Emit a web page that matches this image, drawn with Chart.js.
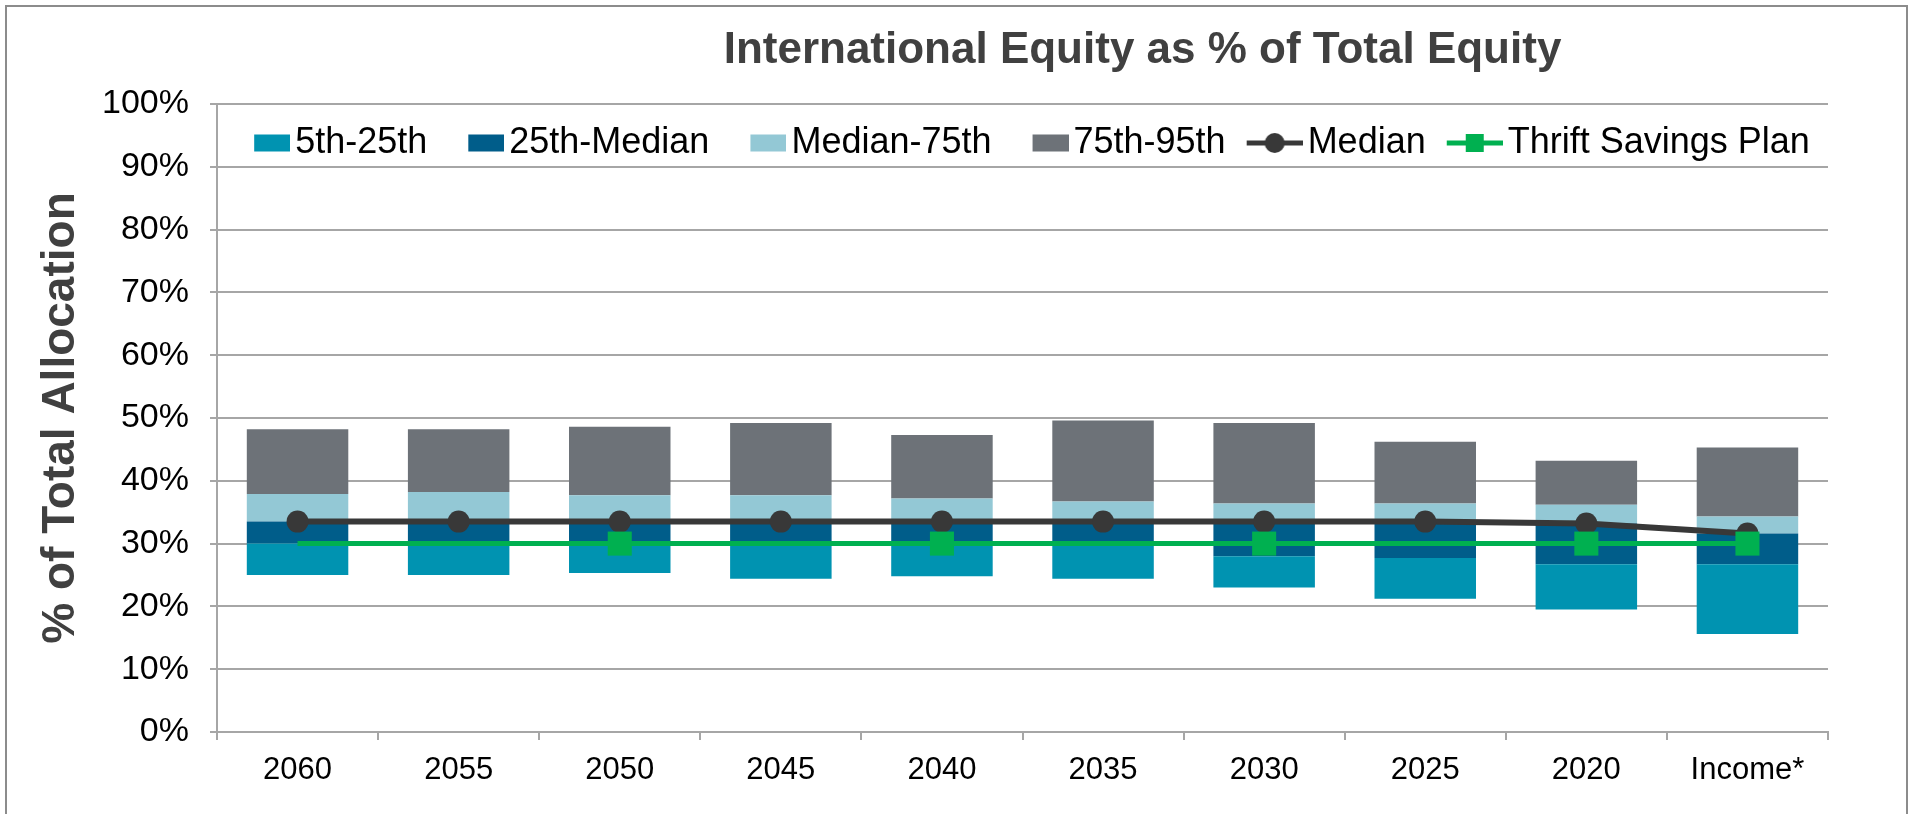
<!DOCTYPE html>
<html><head><meta charset="utf-8">
<script src="https://cdn.jsdelivr.net/npm/chart.js@4.4.1/dist/chart.umd.min.js"></script>
<style>
html,body{margin:0;padding:0;background:#fff;overflow:hidden;}
#wrap{position:relative;width:1913px;height:814px;}
</style></head><body>
<div id="wrap"><canvas id="c"></canvas></div>
<script>
const chartTitle = 'International Equity as % of Total Equity';
const yAxisTitle = '% of Total Allocation';
const categories = ['2060','2055','2050','2045','2040','2035','2030','2025','2020','Income*'];
const yTickLabels = ['0%','10%','20%','30%','40%','50%','60%','70%','80%','90%','100%'];
const p5     = [25.0, 25.0, 25.3, 24.4, 24.8, 24.4, 23.0, 21.2, 19.5, 15.6];
const p25    = [30.0, 30.0, 29.7, 30.0, 29.6, 29.8, 28.0, 27.7, 26.7, 26.7];
const median = [33.5, 33.5, 33.5, 33.5, 33.5, 33.5, 33.5, 33.5, 33.2, 31.6];
const p75    = [37.9, 38.2, 37.7, 37.7, 37.2, 36.7, 36.4, 36.4, 36.2, 34.3];
const p95    = [48.2, 48.2, 48.6, 49.2, 47.3, 49.6, 49.2, 46.2, 43.2, 45.3];
const tsp    = [30, 30, 30, 30, 30, 30, 30, 30, 30, 30];

const FONT = '"Liberation Sans", Arial, sans-serif';
Chart.defaults.font.family = FONT;

const bands = [
  {label: '5th-25th',    lo: p5,     hi: p25,    color: '#0093B1'},
  {label: '25th-Median', lo: p25,    hi: median, color: '#005D8A'},
  {label: 'Median-75th', lo: median, hi: p75,    color: '#93C8D5'},
  {label: '75th-95th',   lo: p75,    hi: p95,    color: '#6D7278'}
];

const barDatasets = bands.map((b, k) => ({
  type: 'bar',
  label: b.label,
  data: categories.map((_, i) => [b.lo[i], b.hi[i]]),
  backgroundColor: b.color,
  borderWidth: 0,
  grouped: false,
  barPercentage: 0.63,
  categoryPercentage: 1,
  order: 10 + k
}));

const lineDatasets = [
  {
    type: 'line', label: 'Median', data: median,
    borderColor: '#383838', backgroundColor: '#383838', borderWidth: 6,
    pointStyle: 'circle', pointRadius: 11, pointBorderWidth: 0,
    pointBackgroundColor: '#383838', tension: 0, order: 1
  },
  {
    type: 'line', label: 'Thrift Savings Plan', data: tsp,
    borderColor: '#00B050', backgroundColor: '#00B050', borderWidth: 5,
    pointStyle: 'rect', pointBorderWidth: 0, pointBackgroundColor: '#00B050',
    pointRadius: (c) => ((c.dataIndex % 2 === 0 && c.dataIndex > 0) || c.dataIndex === categories.length - 1) ? 17 : 0,
    tension: 0, order: 0
  }
];

function legendSymbol(isBar, color, marker) {
  const W = 68, H = 26;
  const c = document.createElement('canvas');
  c.width = W; c.height = H;
  const g = c.getContext('2d');
  if (isBar) {
    g.fillStyle = color;
    g.fillRect(W - 36, 4.5, 36, 17);
  } else {
    g.strokeStyle = color; g.lineWidth = 5;
    g.beginPath(); g.moveTo(W - 56, H / 2); g.lineTo(W, H / 2); g.stroke();
    g.fillStyle = color;
    const cx = W - 28;
    if (marker === 'circle') { g.beginPath(); g.arc(cx, H / 2, 10, 0, Math.PI * 2); g.fill(); }
    else { g.fillRect(cx - 9, H / 2 - 9, 18, 18); }
  }
  return c;
}

const layoutPlugin = {
  id: 'layoutPlugin',
  afterLayout(chart) {
    const lg = chart.legend, a = chart.chartArea;
    const h = lg.bottom - lg.top;
    lg.top = a.top - 1; lg.bottom = lg.top + h;
    lg.left = a.left - 40; lg.right = a.right + 40;
  },
  beforeDraw(chart) {
    const ctx = chart.ctx;
    ctx.save();
    ctx.fillStyle = '#fff';
    ctx.fillRect(0, 0, chart.width, chart.height);
    ctx.strokeStyle = '#8C8C8C';
    ctx.lineWidth = 2;
    ctx.strokeRect(6, 6, chart.width - 12, chart.height + 20);
    ctx.restore();
  },
  afterDraw(chart) {
    const ctx = chart.ctx, a = chart.chartArea;
    ctx.save();
    ctx.font = 'bold 44px ' + FONT;
    ctx.fillStyle = '#404040';
    ctx.textAlign = 'center';
    ctx.textBaseline = 'middle';
    ctx.fillText(chartTitle, (a.left + a.right) / 2 + 120, 51);
    ctx.restore();
  }
};

new Chart(document.getElementById('c'), {
  data: { labels: categories, datasets: [...barDatasets, ...lineDatasets] },
  plugins: [layoutPlugin],
  options: {
    responsive: true,
    maintainAspectRatio: false,
    animation: false,
    layout: { padding: { left: 0, right: 85, top: 36, bottom: 0 } },
    plugins: {
      tooltip: { enabled: false },
      title: { display: false },
      legend: {
        position: 'top',
        fullSize: true,
        align: 'center',
        labels: {
          usePointStyle: true,
          pointStyleWidth: 42,
          boxHeight: 17,
          padding: 22,
          color: '#000',
          font: { size: 36 },
          generateLabels: (chart) => chart.data.datasets.map((ds, i) => ({
            text: ds.label,
            datasetIndex: i,
            hidden: false,
            fontColor: '#000',
            fillStyle: ds.type === 'bar' ? ds.backgroundColor : ds.borderColor,
            strokeStyle: 'rgba(0,0,0,0)',
            lineWidth: 0,
            rotation: 0,
            pointStyle: legendSymbol(ds.type === 'bar', ds.type === 'bar' ? ds.backgroundColor : ds.borderColor, ds.pointStyle)
          }))
        }
      }
    },
    scales: {
      x: {
        offset: true,
        grid: { display: true, drawOnChartArea: false, drawTicks: true, tickLength: 8, color: '#A6A6A6', lineWidth: 2, offset: true },
        border: { display: true, color: '#A6A6A6', width: 2 },
        ticks: { color: '#000', font: { size: 31 }, padding: 12, maxRotation: 0, autoSkip: false },
        afterFit: (s) => { s.height = 82; }
      },
      y: {
        min: 0, max: 100,
        grid: { color: '#A6A6A6', lineWidth: 2, tickLength: 7, drawTicks: true },
        border: { display: true, color: '#A6A6A6', width: 2 },
        ticks: { stepSize: 10, color: '#000', font: { size: 34 }, padding: 21,
                 callback: (v, i) => yTickLabels[i] },
        title: { display: true, text: yAxisTitle, color: '#404040',
                 font: { size: 46, weight: 'bold' }, padding: { top: 34, bottom: 0 } },
        afterFit: (s) => { s.width = 217; }
      }
    }
  }
});
</script>
</body></html>
